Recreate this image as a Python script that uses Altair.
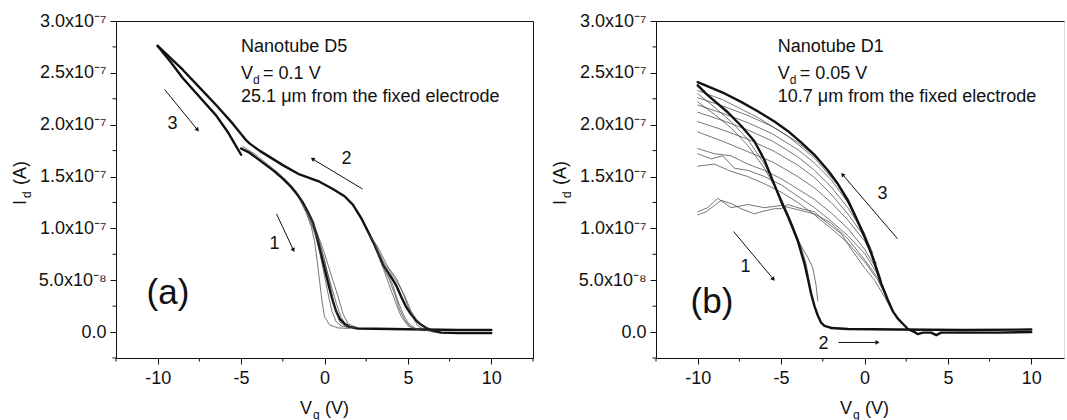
import math
import altair as alt
import pandas as pd

# Drain current in units of 1e-7 A, gate voltage in V.

# ---------- Panel (a): nanotube D5, Vd = 0.1 V ----------
A_SWEEP1 = [(-5.0, 1.77), (-4.5, 1.73), (-4.0, 1.67), (-3.5, 1.61), (-3.0, 1.55), (-2.5, 1.48),
            (-2.0, 1.40), (-1.6, 1.32), (-1.3, 1.25), (-1.0, 1.16), (-0.7, 1.06), (-0.5, 0.95),
            (-0.3, 0.81), (-0.1, 0.68), (0.1, 0.55), (0.3, 0.42), (0.5, 0.30), (0.7, 0.20),
            (0.9, 0.13), (1.2, 0.08), (1.5, 0.05), (2.0, 0.035), (4.0, 0.03), (6.0, 0.025),
            (8.0, 0.02), (10.0, 0.02)]
A_SWEEP2 = [(10.0, -0.01), (9.0, -0.01), (8.0, -0.01), (7.0, -0.005), (6.5, 0.01), (6.2, 0.03),
            (5.8, 0.07), (5.5, 0.11), (5.2, 0.17), (4.9, 0.24), (4.6, 0.34), (4.3, 0.45),
            (4.0, 0.53), (3.5, 0.65), (3.0, 0.84), (2.7, 0.94), (2.2, 1.10), (1.7, 1.23),
            (1.2, 1.31), (0.5, 1.38), (-0.3, 1.45), (-1.5, 1.52), (-2.5, 1.61), (-3.9, 1.75),
            (-4.5, 1.82), (-4.7, 1.85), (-5.5, 2.01), (-6.5, 2.19), (-7.5, 2.36), (-8.5, 2.53),
            (-10.0, 2.76)]
A_SWEEP3 = [(-10.0, 2.76), (-9.2, 2.60), (-8.5, 2.45), (-7.5, 2.27), (-6.5, 2.09), (-5.8, 1.93),
            (-5.4, 1.82), (-5.0, 1.71)]
# repeated sweeps that scatter around the two thresholds
A_REPEATS1 = [
    [(-4.9, 1.79), (-4.2, 1.72), (-3.5, 1.63), (-2.8, 1.54), (-2.2, 1.45), (-1.7, 1.36), (-1.4, 1.28)],
    [(-1.5, 1.28), (-1.1, 1.15), (-0.8, 1.02), (-0.6, 0.88), (-0.45, 0.70), (-0.3, 0.50),
     (-0.15, 0.30), (0.0, 0.15), (0.3, 0.07), (0.8, 0.04), (1.5, 0.035)],
    [(-1.4, 1.27), (-1.0, 1.13), (-0.6, 0.96), (-0.3, 0.78), (-0.05, 0.58), (0.2, 0.38),
     (0.45, 0.20), (0.7, 0.10), (1.0, 0.06), (1.6, 0.04)],
    [(-1.2, 1.22), (-0.8, 1.07), (-0.3, 0.85), (0.1, 0.62), (0.4, 0.45), (0.7, 0.28),
     (1.0, 0.14), (1.3, 0.07), (1.8, 0.04)],
    [(-1.0, 1.16), (-0.5, 0.98), (0.0, 0.76), (0.4, 0.55), (0.8, 0.35), (1.1, 0.18),
     (1.4, 0.08), (2.0, 0.04)],
    [(-0.8, 1.10), (-0.4, 0.93), (0.0, 0.70), (0.3, 0.48), (0.6, 0.25), (0.9, 0.10),
     (1.3, 0.05), (1.9, 0.04)],
]
A_REPEATS2 = [
    [(6.8, 0.0), (6.0, 0.02), (5.6, 0.06), (5.3, 0.14), (5.0, 0.25), (4.7, 0.38), (4.3, 0.52),
     (3.8, 0.63), (3.2, 0.82), (2.6, 0.96)],
    [(6.3, 0.01), (5.5, 0.03), (5.0, 0.09), (4.7, 0.18), (4.4, 0.30), (4.1, 0.45), (3.7, 0.60),
     (3.2, 0.78), (2.7, 0.93)],
    [(6.0, 0.01), (5.2, 0.04), (4.8, 0.12), (4.5, 0.22), (4.2, 0.37), (3.9, 0.50), (3.5, 0.64),
     (3.0, 0.85)],
    [(6.6, 0.02), (6.0, 0.05), (5.6, 0.10), (5.2, 0.20), (4.8, 0.35), (4.4, 0.47), (4.0, 0.57),
     (3.6, 0.66), (3.0, 0.86)],
    [(5.7, 0.02), (5.0, 0.06), (4.6, 0.15), (4.3, 0.27), (4.0, 0.40), (3.6, 0.58), (3.1, 0.80)],
]

# ---------- Panel (b): nanotube D1, Vd = 0.05 V ----------
B_SWEEP1 = [(-10.0, 2.38), (-9.5, 2.30), (-9.0, 2.23), (-8.2, 2.12), (-7.4, 1.99), (-6.6, 1.84),
            (-6.0, 1.66), (-5.4, 1.42), (-5.0, 1.26), (-4.6, 1.12), (-4.3, 1.00), (-4.0, 0.88),
            (-3.6, 0.66), (-3.4, 0.52), (-3.2, 0.37), (-3.0, 0.25), (-2.8, 0.16), (-2.6, 0.09),
            (-2.4, 0.06), (-2.0, 0.04)]
B_SWEEP2 = [(-2.0, 0.04), (-1.0, 0.03), (2.0, 0.025), (6.0, 0.02), (10.0, 0.025)]
B_SWEEP3 = [(10.0, 0.0), (8.0, -0.005), (6.0, -0.005), (4.6, -0.005), (4.3, -0.03), (4.0, -0.005),
            (3.5, -0.005), (3.2, -0.02), (3.0, 0.0), (2.6, 0.03), (2.3, 0.08), (2.0, 0.13),
            (1.7, 0.20), (1.4, 0.31), (1.0, 0.47), (0.7, 0.62), (0.4, 0.76), (0.0, 0.92),
            (-0.5, 1.10), (-1.0, 1.27), (-1.6, 1.43), (-2.2, 1.56), (-3.0, 1.71), (-3.8, 1.83),
            (-4.6, 1.94), (-5.4, 2.03), (-6.4, 2.13), (-7.4, 2.22), (-8.5, 2.31), (-10.0, 2.41)]
B_REPEATS1 = [
    [(-10.0, 2.30), (-9.0, 2.17), (-8.0, 2.03), (-7.0, 1.86), (-6.0, 1.62), (-5.2, 1.36),
     (-4.5, 1.10), (-3.9, 0.86), (-3.4, 0.72), (-3.1, 0.62), (-2.9, 0.45), (-2.8, 0.30)],
    [(-10.0, 2.22), (-9.0, 2.10), (-8.0, 1.97), (-7.0, 1.80), (-6.0, 1.58), (-5.0, 1.29),
     (-4.3, 1.03), (-3.8, 0.82), (-3.5, 0.66), (-3.3, 0.48), (-3.1, 0.30)],
]
B_REPEATS3 = [
    [(1.6, 0.22), (1.2, 0.34), (0.6, 0.50), (0.0, 0.62), (-0.8, 0.80), (-1.4, 0.95),
     (-2.6, 1.10), (-3.0, 1.16), (-3.8, 1.19), (-4.2, 1.21), (-4.6, 1.23), (-5.0, 1.19),
     (-5.4, 1.19), (-6.2, 1.16), (-6.6, 1.14), (-7.4, 1.19), (-8.0, 1.24), (-8.6, 1.27),
     (-9.0, 1.22), (-9.5, 1.16), (-10.0, 1.13)],
    [(1.5, 0.27), (0.8, 0.52), (0.0, 0.70), (-1.0, 0.90), (-2.0, 1.05), (-3.0, 1.14),
     (-4.0, 1.18), (-5.0, 1.22), (-6.0, 1.20), (-7.0, 1.23), (-8.0, 1.20), (-8.8, 1.29),
     (-9.4, 1.20), (-10.0, 1.16)],
    [(1.4, 0.31), (0.8, 0.50), (0.0, 0.68), (-1.0, 0.86), (-2.0, 1.00), (-3.0, 1.13),
     (-4.0, 1.25), (-5.0, 1.35), (-6.0, 1.43), (-7.0, 1.50), (-8.0, 1.55), (-9.0, 1.62),
     (-10.0, 1.60)],
    [(1.2, 0.40), (0.7, 0.58), (0.0, 0.76), (-1.0, 0.93), (-2.0, 1.07), (-3.0, 1.20),
     (-4.0, 1.31), (-5.0, 1.42), (-6.0, 1.50), (-7.0, 1.56), (-7.8, 1.58), (-8.5, 1.70),
     (-9.2, 1.67), (-10.0, 1.72)],
    [(1.0, 0.47), (0.6, 0.64), (0.0, 0.80), (-1.0, 1.00), (-2.0, 1.15), (-3.0, 1.28),
     (-4.0, 1.38), (-5.0, 1.48), (-6.0, 1.56), (-7.0, 1.62), (-8.0, 1.70), (-9.0, 1.72),
     (-10.0, 1.77)],
    [(1.0, 0.50), (0.5, 0.74), (0.0, 0.88), (-1.0, 1.08), (-2.0, 1.25), (-3.0, 1.39),
     (-4.0, 1.50), (-5.5, 1.64), (-7.0, 1.74), (-8.5, 1.84), (-10.0, 1.93)],
    [(0.7, 0.66), (0.0, 0.92), (-1.0, 1.14), (-2.0, 1.33), (-3.0, 1.49), (-4.0, 1.61),
     (-5.5, 1.75), (-7.0, 1.86), (-8.5, 1.95), (-10.0, 2.03)],
    [(0.5, 0.76), (0.0, 0.95), (-1.0, 1.20), (-2.0, 1.40), (-3.0, 1.56), (-4.0, 1.69),
     (-5.5, 1.84), (-7.0, 1.95), (-8.5, 2.04), (-10.0, 2.12)],
    [(0.0, 0.95), (-1.0, 1.25), (-2.0, 1.47), (-3.0, 1.63), (-4.0, 1.76), (-5.5, 1.91),
     (-7.0, 2.02), (-8.5, 2.11), (-10.0, 2.19)],
    [(0.0, 0.94), (-1.0, 1.29), (-2.0, 1.53), (-3.0, 1.70), (-4.0, 1.83), (-5.5, 1.98),
     (-7.0, 2.09), (-8.5, 2.18), (-10.0, 2.26)],
    [(0.4, 0.77), (-0.5, 1.11), (-1.6, 1.42), (-3.0, 1.68), (-4.6, 1.89), (-6.4, 2.07),
     (-8.5, 2.24), (-10.0, 2.33)],
]

# Axis ticks: labelled majors and unlabelled minors
X_MAJOR = [-10, -5, 0, 5, 10]
X_MINOR_A = [-12.5, -7.5, -2.5, 2.5, 7.5, 12.5]
X_MINOR_B = [-12.5, -7.5, -2.5, 2.5, 7.5]
Y_MAJOR = [0.0, 0.5, 1.0, 1.5, 2.0, 2.5, 3.0]
Y_MINOR = [-0.25, 0.25, 0.75, 1.25, 1.75, 2.25, 2.75]

# Annotations: (V, I, text)
A_NOTES = [(-5.0, 2.70, "Nanotube D5"), (-5.0, 2.22, "25.1 \u03bcm from the fixed electrode")]
A_VD = [(-5.0, 2.44, "V", "d", "= 0.1 V")]
A_NUMBERS = [(-9.41, 1.96, "3"), (1.02, 1.625, "2"), (-3.3, 0.80, "1")]
A_ARROWS = [(-9.59, 2.34, -7.61, 1.95), (2.28, 1.38, -0.72, 1.67), (-2.88, 1.14, -1.86, 0.79)]
A_TAG = [(-10.67, 0.27, "(a)")]

B_NOTES = [(-5.2, 2.70, "Nanotube D1"), (-5.2, 2.22, "10.7 \u03bcm from the fixed electrode")]
B_VD = [(-5.2, 2.44, "V", "d", "= 0.05 V")]
B_NUMBERS = [(-7.43, 0.58, "1"), (-2.76, -0.16, "2"), (0.78, 1.28, "3")]
B_ARROWS = [(-7.85, 0.97, -5.46, 0.51), (-1.56, -0.10, 0.78, -0.10), (1.98, 0.90, -1.32, 1.52)]
B_TAG = [(-10.43, 0.18, "(b)")]

INK = "#111111"
THIN = "#3c3c3c"
FONT = "Liberation Sans"
FS = 18
SUB = 12
PLOT_H = 337
Y_DOMAIN = [-0.25, 3.0]
PX_PER_V = 417 / 25.0
PX_PER_I = PLOT_H / 3.25

X_LABELS = "(datum.value < 0 ? '-' : '') + abs(datum.value)"
Y_LABELS = ("datum.value === 0 ? '0.0' : "
            "(datum.value < 1 ? format(datum.value * 10, '.1f') + 'x10\u207b\u2078' : "
            "format(datum.value, '.1f') + 'x10\u207b\u2077')")


def curves_frame(groups):
    rows = []
    for kind, traces in groups:
        for t, pts in enumerate(traces):
            for k, (v, i) in enumerate(pts):
                rows.append({"trace": f"{kind}-{t}", "kind": kind, "seq": k, "v": v, "i": i})
    return pd.DataFrame(rows)


def panel(groups, widths, width, x_domain, x_minor, right_border, notes, vd, numbers,
          arrows, tag):
    xs = alt.Scale(domain=x_domain, nice=False, zero=False)
    ys = alt.Scale(domain=Y_DOMAIN, nice=False, zero=False)
    df = curves_frame(groups)
    kinds = list(widths.keys())

    curves = alt.Chart(df).mark_line(strokeJoin="round", strokeCap="round").encode(
        x=alt.X("v:Q", scale=xs, title=None, axis=alt.Axis(
            values=X_MAJOR, labelExpr=X_LABELS, grid=False, domainColor=INK, tickColor=INK,
            tickSize=6, labelFont=FONT, labelFontSize=FS, labelColor=INK, labelPadding=5,
            labelFlush=False, labelOverlap=False)),
        y=alt.Y("i:Q", scale=ys, title=None, axis=alt.Axis(
            values=Y_MAJOR, labelExpr=Y_LABELS, grid=False, domainColor=INK, tickColor=INK,
            tickSize=6, labelFont=FONT, labelFontSize=FS, labelColor=INK, labelPadding=4,
            labelFlush=False, labelOverlap=False)),
        detail="trace:N",
        order="seq:Q",
        color=alt.Color("kind:N", legend=None,
                        scale=alt.Scale(domain=kinds, range=[widths[k][1] for k in kinds])),
        strokeWidth=alt.StrokeWidth("kind:N", legend=None,
                                    scale=alt.Scale(domain=kinds, range=[widths[k][0] for k in kinds])),
    )

    # top (and right) frame lines
    frame_df = pd.DataFrame({"v": [x_domain[0]], "i": [Y_DOMAIN[0]]})
    frame = alt.Chart(frame_df).mark_point(opacity=0).encode(
        x=alt.X("v:Q", scale=xs, title=None, axis=alt.Axis(
            orient="top", labels=False, ticks=False, grid=False, domainColor=INK)),
        y=alt.Y("i:Q", scale=ys, title=None, axis=(alt.Axis(
            orient="right", labels=False, ticks=False, grid=False, domainColor=INK)
            if right_border else None)),
    )

    # short unlabelled minor ticks outside the bottom and left axes
    xminor = alt.Chart(pd.DataFrame({"t": x_minor})).mark_rule(color=INK, strokeWidth=1).encode(
        x=alt.X("t:Q", scale=xs, axis=None), y=alt.value(PLOT_H), y2=alt.value(PLOT_H + 3.5))
    yminor = alt.Chart(pd.DataFrame({"t": Y_MINOR})).mark_rule(color=INK, strokeWidth=1).encode(
        y=alt.Y("t:Q", scale=ys, axis=None), x=alt.value(0), x2=alt.value(-3.5))

    def texts(rows, size, dx=0, dy=0):
        tdf = pd.DataFrame(rows, columns=["v", "i", "label"])
        return alt.Chart(tdf).mark_text(
            align="left", baseline="alphabetic", font=FONT, fontSize=size, color=INK, dx=dx, dy=dy
        ).encode(x=alt.X("v:Q", scale=xs, axis=None), y=alt.Y("i:Q", scale=ys, axis=None),
                 text="label:N")

    note_layer = texts(notes, FS)
    vd_main = texts([(v, i, a) for v, i, a, b, c in vd], FS)
    vd_sub = texts([(v, i, b) for v, i, a, b, c in vd], SUB, dx=12, dy=5)
    vd_rest = texts([(v, i, c) for v, i, a, b, c in vd], FS, dx=22)
    num_layer = texts(numbers, FS)
    tag_layer = texts(tag, 35)

    adf = pd.DataFrame(arrows, columns=["v", "i", "v2", "i2"])
    adf["ang"] = [
        (math.degrees(math.atan2((r.v2 - r.v) * PX_PER_V, (r.i2 - r.i) * PX_PER_I)) + 360) % 360
        for r in adf.itertuples()
    ]
    shafts = alt.Chart(adf).mark_rule(color=INK, strokeWidth=1).encode(
        x=alt.X("v:Q", scale=xs, axis=None), y=alt.Y("i:Q", scale=ys, axis=None),
        x2="v2:Q", y2="i2:Q")
    heads = alt.Chart(adf).mark_point(shape="triangle-up", filled=True, size=22, color=INK,
                                      opacity=1).encode(
        x=alt.X("v2:Q", scale=xs, axis=None), y=alt.Y("i2:Q", scale=ys, axis=None),
        angle=alt.Angle("ang:Q", scale=None))

    def label(text, size, x, y, angle=0):
        mark = dict(text=text, align="left", baseline="alphabetic", font=FONT,
                    fontSize=size, color=INK)
        if angle:
            mark["angle"] = angle
        return alt.Chart(frame_df).mark_text(**mark).encode(x=alt.value(x), y=alt.value(y))

    # axis titles with subscripts
    titles = [
        label("I", FS, -90, 184, 270),
        label("d", SUB, -85, 177, 270),
        label("(A)", FS, -90, 164, 270),
        label("V", FS, 184, 393),
        label("g", SUB, 197, 398),
        label("(V)", FS, 209, 393),
    ]

    return alt.layer(curves, frame, xminor, yminor, note_layer, vd_main, vd_sub, vd_rest,
                     num_layer, tag_layer, shafts, heads, *titles).resolve_axis(
        x="independent", y="independent").properties(width=width, height=PLOT_H)


panel_a = panel(
    [("main", [A_SWEEP1, A_SWEEP2, A_SWEEP3]), ("thin", A_REPEATS1 + A_REPEATS2)],
    {"thin": (0.7, THIN), "main": (2.4, INK)},
    417, [-12.5, 12.5], X_MINOR_A, True, A_NOTES, A_VD, A_NUMBERS, A_ARROWS, A_TAG)

panel_b = panel(
    [("thin", B_REPEATS3 + B_REPEATS1), ("main", [B_SWEEP1, B_SWEEP2, B_SWEEP3])],
    {"thin": (0.7, THIN), "main": (4.0, INK)},
    408, [-12.5, 11.96], X_MINOR_B, False, B_NOTES, B_VD, B_NUMBERS, B_ARROWS, B_TAG)

chart = alt.hconcat(panel_a, panel_b, spacing=123, bounds="flush").properties(
    padding={"left": 11, "top": 11, "right": 0, "bottom": 0}
).configure_view(strokeWidth=0).configure(background="white")

chart.save("out.html", embed_options={"renderer": "svg", "actions": False})
